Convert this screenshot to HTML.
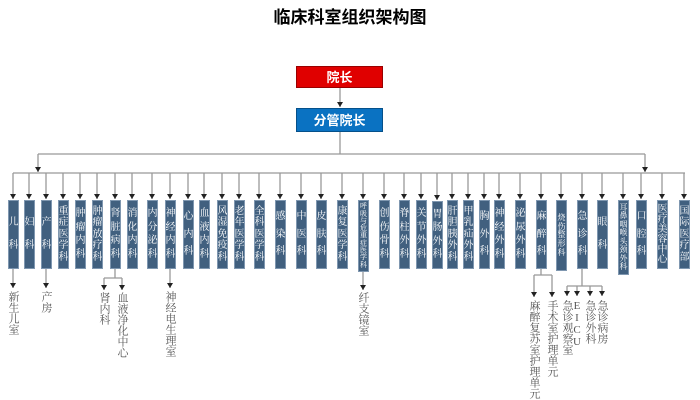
<!DOCTYPE html>
<html><head><meta charset="utf-8"><style>
body{margin:0;width:700px;height:400px;background:#fff;position:relative;overflow:hidden;font-family:"Liberation Serif","Noto Serif CJK SC",serif}
svg{position:absolute;left:0;top:0}
.t{position:absolute;left:0;top:3px;width:700px;text-align:center;font:bold 17px "Liberation Sans","Noto Sans CJK SC",sans-serif;color:#000}
.hb{position:absolute;left:296px;width:87px;height:22px;color:#fff;font:bold 13px "Liberation Sans","Noto Sans CJK SC",sans-serif;text-align:center;line-height:22px;box-sizing:border-box}
.b{position:absolute;top:200px;width:11px;height:69px;background:#41607f;border:1px solid #7f97b0;box-sizing:border-box;color:#fff;display:flex;flex-direction:column;justify-content:space-evenly;align-items:center;font-size:10px;line-height:10px;padding:4px 0;overflow:hidden}
.b i{font-style:normal;display:block;width:10px;text-align:center}
.s{position:absolute;writing-mode:vertical-rl;text-orientation:upright;font-size:11px;line-height:12px;color:#555}
</style></head><body>
<div class="t">临床科室组织架构图</div>
<div class="hb" style="top:66px;background:#e00000;border:1px solid #900">院长</div>
<div class="hb" style="top:108px;height:24px;line-height:24px;background:#0a72c2;border:1px solid #05508a">分管院长</div>
<svg width="700" height="400">
<defs><marker id="d" viewBox="0 0 6 5" markerWidth="6" markerHeight="5" refX="3" refY="5" orient="0" markerUnits="userSpaceOnUse"><path d="M0,0 L6,0 L3,5z" fill="#222"/></marker></defs>
<g stroke="#999" stroke-width="1.3" fill="none">
<line x1="340" y1="88" x2="340" y2="107" marker-end="url(#d)"/>
<line x1="340" y1="132" x2="340" y2="154"/>
<line x1="38" y1="154" x2="645" y2="154"/>
<line x1="38" y1="154" x2="38" y2="172" marker-end="url(#d)"/>
<line x1="645" y1="154" x2="645" y2="172" marker-end="url(#d)"/>
<line x1="13" y1="173" x2="685" y2="173"/>
<g marker-end="url(#d)">
<line x1="13" y1="173" x2="13" y2="199"/><line x1="29" y1="173" x2="29" y2="199"/><line x1="46" y1="173" x2="46" y2="199"/><line x1="63" y1="173" x2="63" y2="199"/><line x1="80" y1="173" x2="80" y2="199"/><line x1="97" y1="173" x2="97" y2="199"/><line x1="115" y1="173" x2="115" y2="199"/><line x1="132" y1="173" x2="132" y2="199"/><line x1="152" y1="173" x2="152" y2="199"/><line x1="170" y1="173" x2="170" y2="199"/><line x1="188" y1="173" x2="188" y2="199"/><line x1="204" y1="173" x2="204" y2="199"/><line x1="222" y1="173" x2="222" y2="199"/><line x1="239" y1="173" x2="239" y2="199"/><line x1="259" y1="173" x2="259" y2="199"/><line x1="280" y1="173" x2="280" y2="199"/><line x1="301" y1="173" x2="301" y2="199"/><line x1="321" y1="173" x2="321" y2="199"/><line x1="342" y1="173" x2="342" y2="199"/><line x1="363" y1="173" x2="363" y2="199"/><line x1="384" y1="173" x2="384" y2="199"/><line x1="404" y1="173" x2="404" y2="199"/><line x1="421" y1="173" x2="421" y2="199"/><line x1="437" y1="173" x2="437" y2="200"/><line x1="452" y1="173" x2="452" y2="199"/><line x1="468" y1="173" x2="468" y2="199"/><line x1="484" y1="173" x2="484" y2="199"/><line x1="499" y1="173" x2="499" y2="199"/><line x1="520" y1="173" x2="520" y2="199"/><line x1="541" y1="173" x2="541" y2="199"/><line x1="561" y1="173" x2="561" y2="199"/><line x1="582" y1="173" x2="582" y2="199"/><line x1="602" y1="173" x2="602" y2="199"/><line x1="623" y1="173" x2="623" y2="199"/><line x1="641" y1="173" x2="641" y2="199"/><line x1="662" y1="173" x2="662" y2="199"/><line x1="684" y1="173" x2="684" y2="199"/>
<line x1="13" y1="269" x2="13" y2="288"/>
<line x1="46" y1="269" x2="46" y2="288"/>
<line x1="170" y1="269" x2="170" y2="288"/>
<line x1="363" y1="272" x2="363" y2="290"/>
<line x1="104" y1="278" x2="104" y2="290"/>
<line x1="122" y1="278" x2="122" y2="290"/>
<line x1="534" y1="275" x2="534" y2="297"/>
<line x1="552" y1="275" x2="552" y2="297"/>
<line x1="567" y1="286" x2="567" y2="296"/>
<line x1="577" y1="286" x2="577" y2="296"/>
<line x1="590" y1="286" x2="590" y2="296"/>
<line x1="602" y1="286" x2="602" y2="296"/>
</g>
<path d="M115 269V278M104 278H122M541 269V275M534 275H552M582 269V286M567 286H602"/>
</g>
</svg>
<div class="b" style="left:8px"><i>儿</i><i>科</i></div>
<div class="b" style="left:24px"><i>妇</i><i>科</i></div>
<div class="b" style="left:41px"><i>产</i><i>科</i></div>
<div class="b" style="left:58px"><i>重</i><i>症</i><i>医</i><i>学</i><i>科</i></div>
<div class="b" style="left:75px"><i>肿</i><i>瘤</i><i>内</i><i>科</i></div>
<div class="b" style="left:92px"><i>肿</i><i>瘤</i><i>放</i><i>疗</i><i>科</i></div>
<div class="b" style="left:110px"><i>肾</i><i>脏</i><i>病</i><i>科</i></div>
<div class="b" style="left:127px"><i>消</i><i>化</i><i>内</i><i>科</i></div>
<div class="b" style="left:147px"><i>内</i><i>分</i><i>泌</i><i>科</i></div>
<div class="b" style="left:165px"><i>神</i><i>经</i><i>内</i><i>科</i></div>
<div class="b" style="left:183px"><i>心</i><i>内</i><i>科</i></div>
<div class="b" style="left:199px"><i>血</i><i>液</i><i>内</i><i>科</i></div>
<div class="b" style="left:217px"><i>风</i><i>湿</i><i>免</i><i>疫</i><i>科</i></div>
<div class="b" style="left:234px"><i>老</i><i>年</i><i>医</i><i>学</i><i>科</i></div>
<div class="b" style="left:254px"><i>全</i><i>科</i><i>医</i><i>学</i><i>科</i></div>
<div class="b" style="left:275px"><i>感</i><i>染</i><i>科</i></div>
<div class="b" style="left:296px"><i>中</i><i>医</i><i>科</i></div>
<div class="b" style="left:316px"><i>皮</i><i>肤</i><i>科</i></div>
<div class="b" style="left:337px"><i>康</i><i>复</i><i>医</i><i>学</i><i>科</i></div>
<div class="b" style="left:358px;height:72px;font-size:7px;line-height:7px;padding:2px 0"><i>呼</i><i>吸</i><i>与</i><i>危</i><i>重</i><i>症</i><i>医</i><i>学</i><i>科</i></div>
<div class="b" style="left:379px"><i>创</i><i>伤</i><i>骨</i><i>科</i></div>
<div class="b" style="left:399px"><i>脊</i><i>柱</i><i>外</i><i>科</i></div>
<div class="b" style="left:416px"><i>关</i><i>节</i><i>外</i><i>科</i></div>
<div class="b" style="left:432px;top:201px;height:68px"><i>胃</i><i>肠</i><i>外</i><i>科</i></div>
<div class="b" style="left:447px"><i>肝</i><i>胆</i><i>胰</i><i>外</i><i>科</i></div>
<div class="b" style="left:463px"><i>甲</i><i>乳</i><i>疝</i><i>外</i><i>科</i></div>
<div class="b" style="left:479px"><i>胸</i><i>外</i><i>科</i></div>
<div class="b" style="left:494px"><i>神</i><i>经</i><i>外</i><i>科</i></div>
<div class="b" style="left:515px"><i>泌</i><i>尿</i><i>外</i><i>科</i></div>
<div class="b" style="left:536px"><i>麻</i><i>醉</i><i>科</i></div>
<div class="b" style="left:556px;height:71px;font-size:8px;line-height:8px;padding:12px 0"><i>烧</i><i>伤</i><i>整</i><i>形</i><i>科</i></div>
<div class="b" style="left:577px"><i>急</i><i>诊</i><i>科</i></div>
<div class="b" style="left:597px"><i>眼</i><i>科</i></div>
<div class="b" style="left:618px;height:75px;font-size:8px;line-height:8px;padding:2px 0"><i>耳</i><i>鼻</i><i>咽</i><i>喉</i><i>头</i><i>颈</i><i>外</i><i>科</i></div>
<div class="b" style="left:636px"><i>口</i><i>腔</i><i>科</i></div>
<div class="b" style="left:657px"><i>医</i><i>疗</i><i>美</i><i>容</i><i>中</i><i>心</i></div>
<div class="b" style="left:679px"><i>国</i><i>际</i><i>医</i><i>疗</i><i>部</i></div>
<div class="s" style="left:7px;top:291px">新生儿室</div>
<div class="s" style="left:40px;top:291px">产房</div>
<div class="s" style="left:98px;top:292px">肾内科</div>
<div class="s" style="left:116px;top:292px">血液净化中心</div>
<div class="s" style="left:164px;top:291px">神经电生理室</div>
<div class="s" style="left:357px;top:292px">纤支镜室</div>
<div class="s" style="left:528px;top:300px">麻醉复苏室护理单元</div>
<div class="s" style="left:546px;top:300px">手术室护理单元</div>
<div class="s" style="left:561px;top:300px">急诊观察室</div>
<div class="s" style="left:571px;top:300px">EICU</div>
<div class="s" style="left:584px;top:300px">急诊外科</div>
<div class="s" style="left:596px;top:300px">急诊病房</div>
</body></html>
